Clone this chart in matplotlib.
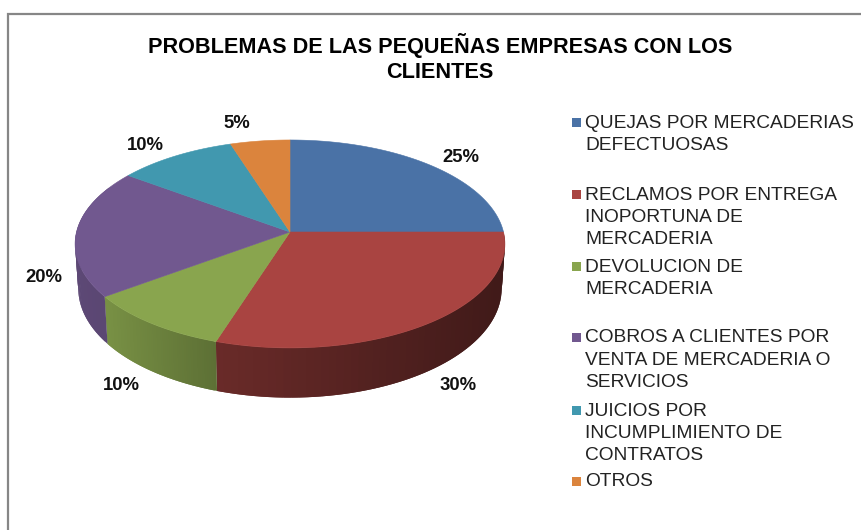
#!/usr/bin/env python3
# -*- coding: utf-8 -*-
import numpy as np
import matplotlib
matplotlib.use('Agg')
import matplotlib.pyplot as plt
from matplotlib.colors import to_rgb

plt.rcParams['font.family'] = ['Liberation Sans', 'DejaVu Sans']

title = "PROBLEMAS DE LAS PEQUEÑAS EMPRESAS CON LOS\nCLIENTES"
categories = [
    "QUEJAS POR MERCADERIAS\nDEFECTUOSAS",
    "RECLAMOS POR ENTREGA\nINOPORTUNA DE\nMERCADERIA",
    "DEVOLUCION DE\nMERCADERIA",
    "COBROS A CLIENTES POR\nVENTA DE MERCADERIA O\nSERVICIOS",
    "JUICIOS POR\nINCUMPLIMIENTO DE\nCONTRATOS",
    "OTROS",
]
values = [25, 30, 10, 20, 10, 5]

colors = ['#4A72A6', '#A94441', '#89A54E', '#71588F', '#4198AF', '#DB843D']
# darkening of the side wall, left end -> right end of each slice
wall_shade = [(0.4, 0.4), (0.63, 0.38), (0.88, 0.68), (0.82, 0.8), (0.8, 0.8), (0.8, 0.8)]

# layout of the pie in pixels
cx, cy = 290, 232
rx, ry = 213.5, 102.6
persp = 0.115
depth = 44
wall_tuck = 0.985

label_pos = [(461, 157), (458, 386), (121, 386), (44, 278), (145, 145), (237, 124)]
legend_y = [122, 194, 266, 337, 410, 481]
line_step = 22.4


def project(t):
    # t in radians, clockwise from the top
    x, y = np.sin(t), np.cos(t)
    w = 1 + persp * y
    return cx + rx * x / w, cy - ry * y / w, depth / w


fig = plt.figure(figsize=(8.62, 5.30), dpi=100)
ax = fig.add_axes([0, 0, 1, 1])
ax.set_xlim(0, 862)
ax.set_ylim(530, 0)
ax.axis('off')

# frame, only left and top are in the picture
ax.plot([8, 8, 862], [530, 13.5, 13.5], color='#868686', lw=1.6, solid_joinstyle='miter')

edges = np.cumsum([0] + values) / sum(values) * 2 * np.pi

# side wall first, each facet runs over the next one so no seams show
for i in range(len(values)):
    t0, t1 = edges[i], edges[i + 1]
    lo, hi = max(t0, np.pi / 2), min(t1, 1.65 * np.pi)
    if hi <= lo:
        continue
    ts = np.linspace(lo, hi, 60)
    xs, ys, ds = project(ts)
    xb = cx + (xs - cx) * wall_tuck
    left, right = wall_shade[i]
    span = max(xs.max() - xs.min(), 1)
    for j in range(len(ts) - 1):
        k = min(j + 2, len(ts) - 1)
        f = (xs[j] - xs.min()) / span
        s = left + (right - left) * f
        c = np.array(to_rgb(colors[i])) * s
        ax.fill([xs[j], xs[k], xb[k], xb[j]],
                [ys[j], ys[k], ys[k] + ds[k], ys[j] + ds[j]],
                color=c, lw=0, zorder=2)

# top of the slices
for i in range(len(values)):
    ts = np.linspace(edges[i], edges[i + 1], 80)
    xs, ys, _ = project(ts)
    ax.fill(np.r_[cx, xs], np.r_[cy, ys], color=colors[i], lw=0.4, zorder=3)

ax.text(440, 58, title, ha='center', va='center', fontsize=15.6, fontweight='bold',
        color='black', linespacing=1.22)

for v, (x, y) in zip(values, label_pos):
    ax.text(x, y, f"{v}%", ha='center', va='center', fontsize=13.3, fontweight='bold', color='#111111')

for name, c, y in zip(categories, colors, legend_y):
    ax.fill([572, 581, 581, 572], [y - 4.5, y - 4.5, y + 4.5, y + 4.5], color=c, lw=0)
    for k, line in enumerate(name.split('\n')):
        ax.text(585, y + 1 + k * line_step, line, ha='left', va='center', fontsize=13.8, color='#222222')

fig.savefig('out.png', dpi=100, facecolor='white')
